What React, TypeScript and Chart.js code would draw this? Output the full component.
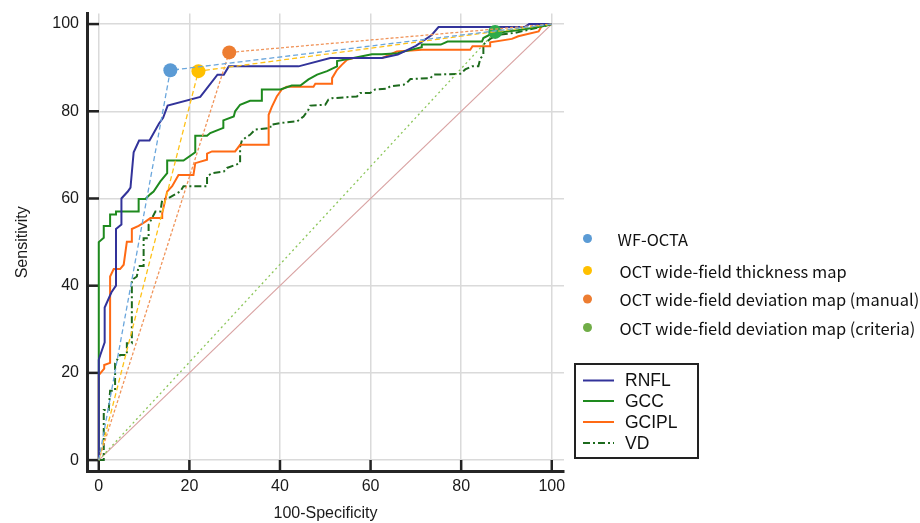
import React, { useEffect, useRef } from 'react';
import Chart from 'chart.js/auto';

// ---------- data ----------
const AXIS_TICKS = [0, 20, 40, 60, 80, 100];

const CURVE_LABELS = ['RNFL', 'GCC', 'GCIPL', 'VD'];

const RNFL_X = [0, 0, 0.3, 1.3, 1.3, 2.8, 3.8, 3.8, 5, 5, 6.4, 7, 7.7, 8.9, 11.2, 13.3, 14.2, 15.2, 22.4, 26.2, 27.6, 28.7, 44.1, 51.1, 62.5, 66, 70, 73.5, 75, 94, 95, 100];
const RNFL_Y = [0, 23, 24, 27, 35, 38.5, 40, 53, 54, 60, 61.6, 62.5, 70.6, 73.3, 73.3, 77.2, 78.5, 81.3, 83.3, 88.4, 88.4, 90.3, 90.3, 92.2, 92.2, 93, 95, 97.5, 99.3, 99.3, 100, 100];

const GCC_X = [0, 0, 1.1, 1.1, 2.5, 2.5, 3.8, 3.8, 8.8, 8.8, 10.3, 11.4, 12.1, 13.6, 15.1, 15.1, 18.7, 21.3, 21.3, 23.9, 24.6, 27.5, 27.5, 29.8, 30.1, 31.2, 33.4, 36, 36, 40.1, 42.6, 44.5, 46.3, 48.2, 50.4, 52.6, 52.6, 56.2, 60.3, 62.5, 66, 67.7, 71.3, 71.3, 75.5, 77, 84.6, 84.9, 86.4, 88, 92, 95, 98, 100];
const GCC_Y = [0, 50, 51, 53.7, 53.7, 56.3, 56.3, 57, 57, 59.9, 59.9, 61, 61.6, 63.9, 65.8, 68.7, 68.7, 70.6, 74.4, 74.4, 75, 76.2, 77.9, 78.8, 80, 81.5, 82.4, 82.4, 85, 85, 85.9, 85.9, 87.3, 88.4, 89.2, 90.3, 91.5, 92.2, 93.1, 93.1, 93.3, 93.8, 94.7, 95.3, 95.3, 96, 96, 96.8, 97.6, 98, 98.5, 99, 99.5, 100];

const GCIPL_X = [0, 0, 1.2, 1.2, 2.5, 2.5, 3.3, 4.7, 5.5, 6.2, 7.3, 7.3, 8.8, 10.3, 11.4, 14, 14, 15.1, 16.2, 17.6, 20.9, 21.3, 23.9, 23.9, 25, 30.1, 31.2, 37.5, 37.5, 38.2, 39.3, 40.4, 41.5, 47.4, 47.8, 51.5, 51.5, 52.6, 53.7, 54.8, 56.2, 62.5, 65.8, 71.3, 82, 82.5, 86.4, 86.4, 91.2, 92.6, 97.1, 97.8, 100];
const GCIPL_Y = [0, 19.5, 21, 21.8, 22.3, 42.1, 43.8, 43.8, 44.8, 50.1, 50.1, 53, 53.7, 54.7, 55.5, 55.5, 56.6, 61.6, 62.8, 65.4, 65.4, 68.1, 68.9, 70.3, 70.8, 70.8, 72.3, 72.3, 79.2, 81, 83.4, 85, 85.6, 85.6, 86.3, 86.3, 87.6, 89.5, 90.7, 91.8, 92.2, 92.2, 93.7, 94.1, 94.1, 94.9, 94.9, 95.8, 96.6, 97.2, 98.3, 99.6, 100];

const VD_X = [0, 1.1, 1.1, 2.2, 2.5, 3.6, 3.6, 4.7, 6.2, 6.2, 7.3, 7.3, 8.4, 8.8, 9.9, 9.9, 11, 11, 12.5, 13.6, 14, 15.4, 18, 18.7, 23.9, 23.9, 25, 27.6, 28.3, 31.2, 31.2, 31.6, 32.7, 33.4, 34.5, 37.9, 37.9, 40.1, 43.8, 45.2, 46.3, 46.7, 50, 50.7, 51.5, 57, 57.7, 59.9, 61, 63.6, 64.3, 67.3, 68, 68.8, 73.2, 73.9, 79.8, 80.9, 82.4, 83.8, 84.2, 84.9, 84.9, 85.7, 86.4, 88, 92, 96, 98.6, 100];
const VD_Y = [0, 0, 11.5, 11.5, 15.9, 15.9, 22.2, 24.1, 24.1, 26.8, 26.8, 41.3, 42.1, 44.5, 44.5, 50.9, 50.9, 54, 57, 57, 59.7, 60.1, 61.6, 62.8, 62.8, 65.1, 65.8, 66.2, 67, 68.1, 71.9, 73.3, 74.2, 74.6, 75.8, 76.2, 76.9, 77.3, 77.7, 78.8, 80.4, 81.3, 81.5, 82.7, 83, 83.4, 84.2, 84.2, 85, 85.2, 85.7, 86.1, 86.5, 87.4, 87.6, 88.4, 88.6, 89.6, 90.3, 90.3, 92, 93, 95.3, 96, 96.6, 97.5, 98, 99, 99.6, 100];

const POINT_LABELS = [
  'WF-OCTA',
  'OCT wide-field thickness map',
  'OCT wide-field deviation map (manual)',
  'OCT wide-field deviation map (criteria)',
];
const POINT_X = [15.8, 22, 28.8, 87.5];
const POINT_Y = [89.4, 89.2, 93.5, 98.2];

const CHANCE_X = [0, 100];
const CHANCE_Y = [0, 100];

// ---------- styles ----------
const CURVE_COLORS = ['#32339a', '#1e8a1e', '#ff6a14', '#1d6a1d'];
const CURVE_DASH: number[][] = [[], [], [], [7, 3, 2, 3]];
const POINT_COLORS = ['#5b9bd5', '#ffc000', '#ed7d31', '#2eaa4a'];
const POINT_LEGEND_COLORS = ['#5b9bd5', '#ffc000', '#ed7d31', '#70ad47'];
const POINT_LINE_COLORS = ['#6aa6dc', '#ffc21a', '#f0945a', '#8cc65a'];
const POINT_LINE_DASH: number[][] = [[5, 3], [5, 3], [3, 2], [2, 3]];

const zip = (xs: number[], ys: number[]) => xs.map((x, i) => ({ x, y: ys[i] }));

const AXIS_FONT = "'Liberation Sans', Arial, sans-serif";
const LEGEND_FONT = "'Noto Sans CJK KR', 'Noto Sans', sans-serif";

const decorPlugin = {
  id: 'decor',
  beforeDatasetsDraw(chart: any) {
    const ctx = chart.ctx;
    const { left, bottom } = chart.chartArea;
    const xs = chart.scales.x;
    const ys = chart.scales.y;
    ctx.save();
    ctx.strokeStyle = '#222';
    ctx.lineWidth = 2.5;
    AXIS_TICKS.forEach((v) => {
      const py = ys.getPixelForValue(v);
      ctx.beginPath();
      ctx.moveTo(left, py);
      ctx.lineTo(left + 12, py);
      ctx.stroke();
      const px = xs.getPixelForValue(v);
      ctx.beginPath();
      ctx.moveTo(px, bottom);
      ctx.lineTo(px, bottom - 11);
      ctx.stroke();
    });
    ctx.restore();
  },
  afterDraw(chart: any) {
    const ctx = chart.ctx;
    ctx.save();
    // point legend (font size chosen so that the longest label spans ~296px)
    const rowsY = [238.5, 270.5, 299, 327.5];
    ctx.font = `17px ${LEGEND_FONT}`;
    const w = ctx.measureText(POINT_LABELS[3]).width;
    const size = Math.min(18, (17 * 296) / w);
    ctx.font = `${size.toFixed(2)}px ${LEGEND_FONT}`;
    ctx.textBaseline = 'middle';
    ctx.textAlign = 'left';
    POINT_LABELS.forEach((lab, i) => {
      ctx.fillStyle = POINT_LEGEND_COLORS[i];
      ctx.beginPath();
      ctx.arc(587.5, rowsY[i], 4.5, 0, Math.PI * 2);
      ctx.fill();
      ctx.fillStyle = '#111';
      ctx.fillText(lab, i === 0 ? 617.5 : 619.5, rowsY[i] + 1);
    });
    // curve legend box
    ctx.strokeStyle = '#222';
    ctx.lineWidth = 2;
    ctx.strokeRect(575, 364, 123, 94);
    const lineRows = [380.5, 401, 422, 443];
    ctx.font = `17.5px ${AXIS_FONT}`;
    CURVE_LABELS.forEach((lab, i) => {
      ctx.strokeStyle = CURVE_COLORS[i];
      ctx.lineWidth = 2;
      ctx.setLineDash(CURVE_DASH[i]);
      ctx.beginPath();
      ctx.moveTo(583, lineRows[i]);
      ctx.lineTo(614, lineRows[i]);
      ctx.stroke();
      ctx.setLineDash([]);
      ctx.fillStyle = '#111';
      ctx.fillText(lab, 625, lineRows[i] + 1);
    });
    ctx.restore();
  },
};

export default function App() {
  const ref = useRef<HTMLCanvasElement | null>(null);

  useEffect(() => {
    if (!ref.current) return;
    const curves = [
      { x: RNFL_X, y: RNFL_Y },
      { x: GCC_X, y: GCC_Y },
      { x: GCIPL_X, y: GCIPL_Y },
      { x: VD_X, y: VD_Y },
    ];
    const datasets: any[] = [];
    POINT_LABELS.forEach((lab, i) => {
      datasets.push({
        label: lab,
        data: [{ x: 0, y: 0 }, { x: POINT_X[i], y: POINT_Y[i] }, { x: 100, y: 100 }],
        borderColor: POINT_LINE_COLORS[i],
        borderWidth: 1.3,
        borderDash: POINT_LINE_DASH[i],
        pointRadius: [0, 7, 0],
        pointHoverRadius: [0, 7, 0],
        pointBackgroundColor: POINT_COLORS[i],
        pointBorderWidth: 0,
        order: 0,
      });
    });
    curves.forEach((c, i) => {
      datasets.push({
        label: CURVE_LABELS[i],
        data: zip(c.x, c.y),
        borderColor: CURVE_COLORS[i],
        borderWidth: 2,
        borderDash: CURVE_DASH[i],
        pointRadius: 0,
        order: 1 + i,
      });
    });
    datasets.push({
      label: 'chance',
      data: zip(CHANCE_X, CHANCE_Y),
      borderColor: '#d9a3a3',
      borderWidth: 1.2,
      pointRadius: 0,
      order: 10,
    });

    const fitTicks = (scale: any) => {
      scale.ticks = AXIS_TICKS.map((v) => ({ value: v }));
    };

    const chart = new Chart(ref.current, {
      type: 'line',
      data: { datasets },
      plugins: [decorPlugin],
      options: {
        responsive: false,
        animation: false,
        events: [],
        layout: { padding: { top: 13.6, right: 356, left: 0, bottom: 0 } },
        plugins: { legend: { display: false }, tooltip: { enabled: false } },
        scales: {
          x: {
            type: 'linear',
            min: -2.6,
            max: 102.7,
            afterBuildTicks: fitTicks,
            afterFit: (s: any) => {
              s.height = 52;
              s.paddingLeft = 0;
              s.paddingRight = 0;
            },
            grid: { color: '#dadada', lineWidth: 1.5, drawTicks: false },
            border: { display: true, color: '#262626', width: 3 },
            ticks: { padding: 6, color: '#1a1a1a', font: { family: AXIS_FONT, size: 16 } },
            title: {
              display: true,
              text: '100-Specificity',
              color: '#1a1a1a',
              font: { family: AXIS_FONT, size: 16 },
              padding: { top: 0, bottom: 0 },
            },
          },
          y: {
            type: 'linear',
            min: -2.5,
            max: 102.4,
            afterBuildTicks: fitTicks,
            afterFit: (s: any) => {
              s.width = 87;
              s.paddingTop = 0;
              s.paddingBottom = 0;
            },
            grid: { color: '#dadada', lineWidth: 1.5, drawTicks: false },
            border: { display: true, color: '#262626', width: 3 },
            ticks: { padding: 8, color: '#1a1a1a', font: { family: AXIS_FONT, size: 16 } },
            title: {
              display: true,
              text: 'Sensitivity',
              color: '#1a1a1a',
              font: { family: AXIS_FONT, size: 16 },
              padding: { top: 13, bottom: 14 },
            },
          },
        },
      },
    } as any);
    return () => chart.destroy();
  }, []);

  return (
    <div style={{ position: 'absolute', left: 0, top: 0, width: 920, height: 523, background: '#fff' }}>
      <canvas ref={ref} width={920} height={523} style={{ display: 'block' }} />
    </div>
  );
}
